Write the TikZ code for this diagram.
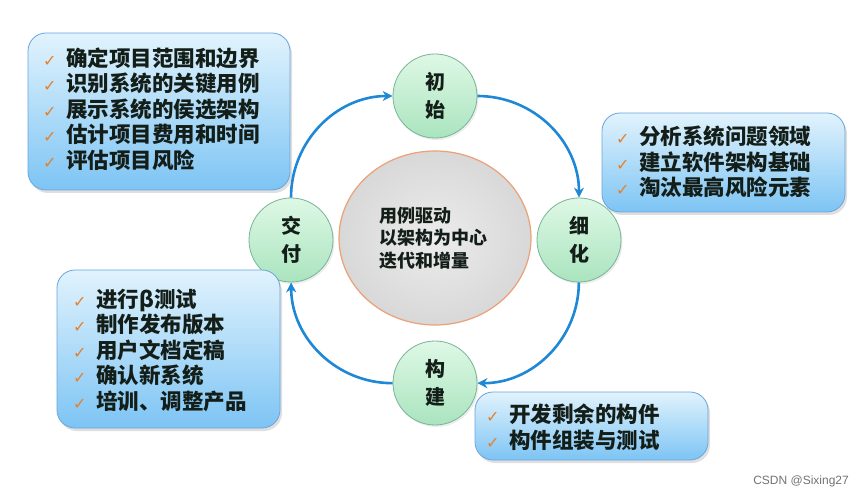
\documentclass[tikz,border=0pt]{standalone}
\usepackage{fontspec}
\newfontfamily\cjk{Noto Sans CJK SC}
\newfontfamily\symf{DejaVu Sans}
\newfontfamily\wmf{Liberation Sans}
\usetikzlibrary{shadows,arrows.meta,shapes.geometric}
\definecolor{arrowblue}{RGB}{30,136,214}
\definecolor{boxtop}{RGB}{225,243,253}
\definecolor{boxbot}{RGB}{125,196,244}
\definecolor{boxline}{RGB}{105,165,220}
\definecolor{gtop}{RGB}{222,248,230}
\definecolor{gbot}{RGB}{170,228,190}
\definecolor{gline}{RGB}{120,180,150}
\definecolor{chk}{RGB}{232,128,40}
\definecolor{cin}{RGB}{236,236,236}
\definecolor{cout}{RGB}{216,216,216}
\definecolor{cline}{RGB}{236,160,120}
\definecolor{txt}{RGB}{20,30,25}
\newcommand{\chkm}{\makebox[23pt][l]{{\symf\color{chk}\fontsize{16}{16}\selectfont ✓}}}
\tikzset{
  infobox/.style={draw=boxline, line width=0.8pt, rounded corners=18pt,
    top color=boxtop, bottom color=boxbot, inner sep=0pt,
    drop shadow={opacity=0.25, shadow xshift=2pt, shadow yshift=-3pt}},
  listtext/.style={anchor=west, align=left, inner sep=0pt, text=txt,
    font=\cjk\bfseries\fontsize{21.5}{25.5}\selectfont},
  phase/.style={circle, draw=gline, line width=0.8pt, minimum size=84pt,
    top color=gtop, bottom color=gbot, inner sep=0pt, align=center, text=txt,
    font=\cjk\bfseries\fontsize{20}{28}\selectfont,
    drop shadow={opacity=0.15, shadow xshift=1.5pt, shadow yshift=-2pt}},
  flow/.style={draw=arrowblue, line width=2.6pt, -{Stealth[length=10pt,width=10pt]}, bend left=45}
}
\begin{document}
\begin{tikzpicture}[x=1pt,y=1pt]
\useasboundingbox (0,0) rectangle (859,501);
\fill[white] (0,0) rectangle (859,501);
% center
\node[ellipse, minimum width=192pt, minimum height=174pt, draw=cline, line width=1.2pt,
  inner color=cin, outer color=cout] (core) at (435,263) {};
\node[anchor=west, align=left, inner sep=0pt, text=txt,
  font=\cjk\bfseries\fontsize{18}{22.5}\selectfont] (coretext) at (379,263)
  {用例驱动\\以架构为中心\\迭代和增量};
% phases
\node[phase] (init) at (435,405) {初\\始};
\node[phase] (elab) at (579,261) {细\\化};
\node[phase] (cons) at (435,118) {构\\建};
\node[phase] (tran) at (291,261) {交\\付};
% arrows
\draw[flow] (tran) to (init);
\draw[flow] (init) to (elab);
\draw[flow] (elab) to (cons);
\draw[flow] (cons) to (tran);
% boxes
\node[infobox, minimum width=262pt, minimum height=157pt] (box1) at (159,389.5) {};
\node[listtext] (t1) at (43,392) {\chkm 确定项目范围和边界\\\chkm 识别系统的关键用例\\\chkm 展示系统的侯选架构\\\chkm 估计项目费用和时间\\\chkm 评估项目风险};
\node[infobox, minimum width=243pt, minimum height=99pt] (box2) at (723.5,338.5) {};
\node[listtext] (t2) at (616,339) {\chkm 分析系统问题领域\\\chkm 建立软件架构基础\\\chkm 淘汰最高风险元素};
\node[infobox, minimum width=223pt, minimum height=158pt] (box3) at (168.5,152) {};
\node[listtext] (t3) at (73,151) {\chkm 进行β测试\\\chkm 制作发布版本\\\chkm 用户文档定稿\\\chkm 确认新系统\\\chkm 培训、调整产品};
\node[infobox, minimum width=233pt, minimum height=68pt] (box4) at (591.5,75) {};
\node[listtext] (t4) at (486,73.5) {\chkm 开发剩余的构件\\\chkm 构件组装与测试};
% watermark
\node[anchor=east, inner sep=0pt, text=black!55, font=\wmf\fontsize{12}{12}\selectfont] (wm) at (849,20) {CSDN @Sixing27};
\end{tikzpicture}
\end{document}
